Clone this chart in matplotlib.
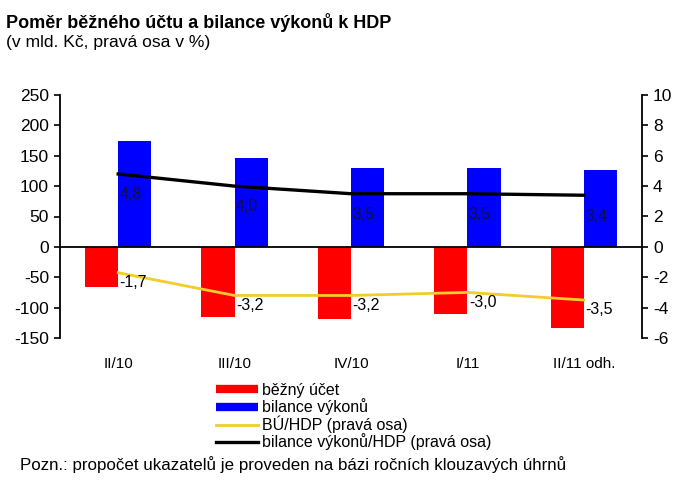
import numpy as np
import matplotlib
matplotlib.use("Agg")
import matplotlib.pyplot as plt
from matplotlib.lines import Line2D

plt.rcParams['font.family'] = ['Liberation Sans', 'DejaVu Sans']
plt.rcParams['axes.unicode_minus'] = False

categories = ['II/10', 'III/10', 'IV/10', 'I/11', 'II/11 odh.']
bezny_ucet = [-66, -116, -119, -111, -134]
bilance_vykonu = [175, 147, 130, 130, 127]
bu_hdp = [-1.7, -3.2, -3.2, -3.0, -3.5]
bv_hdp = [4.8, 4.0, 3.5, 3.5, 3.4]

legend_labels = ['běžný účet', 'bilance výkonů', 'BÚ/HDP (pravá osa)',
                 'bilance výkonů/HDP (pravá osa)']

fig = plt.figure(figsize=(6.88, 4.83), dpi=100)
ax = fig.add_axes([60/688, 1-338/483, (642-60)/688, (338-95)/483])
ax2 = ax.twinx()

x = np.arange(len(categories))
w = 0.285
ax.bar(x - w/2, bezny_ucet, w, color='#ff0000')
ax.bar(x + w/2, bilance_vykonu, w, color='#0000ff')
ax.axhline(0, color='black', lw=1.3)

ax2.plot(x, bu_hdp, color='#f2cd2a', lw=2)
ax2.plot(x, bv_hdp, color='black', lw=2.4)

for xi, v in zip(x, bu_hdp):
    ax2.annotate(('%.1f' % v).replace('.', ','), (xi, v), xytext=(1, -7),
                 textcoords='offset points', ha='left', va='center', fontsize=11.5)
for xi, v in zip(x, bv_hdp):
    ax2.annotate(('%.1f' % v).replace('.', ','), (xi, v), xytext=(1, -15),
                 textcoords='offset points', ha='left', va='center', fontsize=11.5,
                 color='#101040')

ax.set_xlim(-0.5, 4.5)
ax.set_ylim(-150, 250)
ax.set_yticks(np.arange(-150, 251, 50))
ax2.set_ylim(-6, 10)
ax2.set_yticks(np.arange(-6, 11, 2))

ax.set_xticks(x)
ax.set_xticklabels(categories, fontsize=11)
ax.tick_params(axis='x', length=0, pad=14)
ax.tick_params(axis='y', labelsize=12.5, length=4, width=1.2, pad=4)
ax2.tick_params(axis='y', labelsize=12.5, length=4, width=1.2, pad=4)

for a in (ax, ax2):
    a.spines['top'].set_visible(False)
    a.spines['bottom'].set_visible(False)
ax.spines['right'].set_visible(False)
ax2.spines['left'].set_visible(False)
ax.spines['left'].set_linewidth(1.3)
ax2.spines['right'].set_linewidth(1.3)

handles = [Line2D([], [], color='#ff0000', lw=6, solid_capstyle='butt'),
           Line2D([], [], color='#0000ff', lw=6, solid_capstyle='butt'),
           Line2D([], [], color='#f2cd2a', lw=2),
           Line2D([], [], color='black', lw=2.4)]
fig.legend(handles, legend_labels, loc='upper left', bbox_to_anchor=(216/688, 1-383/483),
           frameon=False, fontsize=11.5, handlelength=2.6, handletextpad=0.3,
           labelspacing=0.02, borderpad=0, borderaxespad=0)

fig.text(6/688, 1-28/483, 'Poměr běžného účtu a bilance výkonů k HDP',
         fontsize=13, fontweight='bold', va='baseline', ha='left')
fig.text(6/688, 1-47/483, '(v mld. Kč, pravá osa v %)',
         fontsize=12.6, va='baseline', ha='left')
fig.text(20/688, 1-470/483, 'Pozn.: propočet ukazatelů je proveden na bázi ročních klouzavých úhrnů',
         fontsize=12.2, va='baseline', ha='left')

fig.savefig('out.png', dpi=100)
